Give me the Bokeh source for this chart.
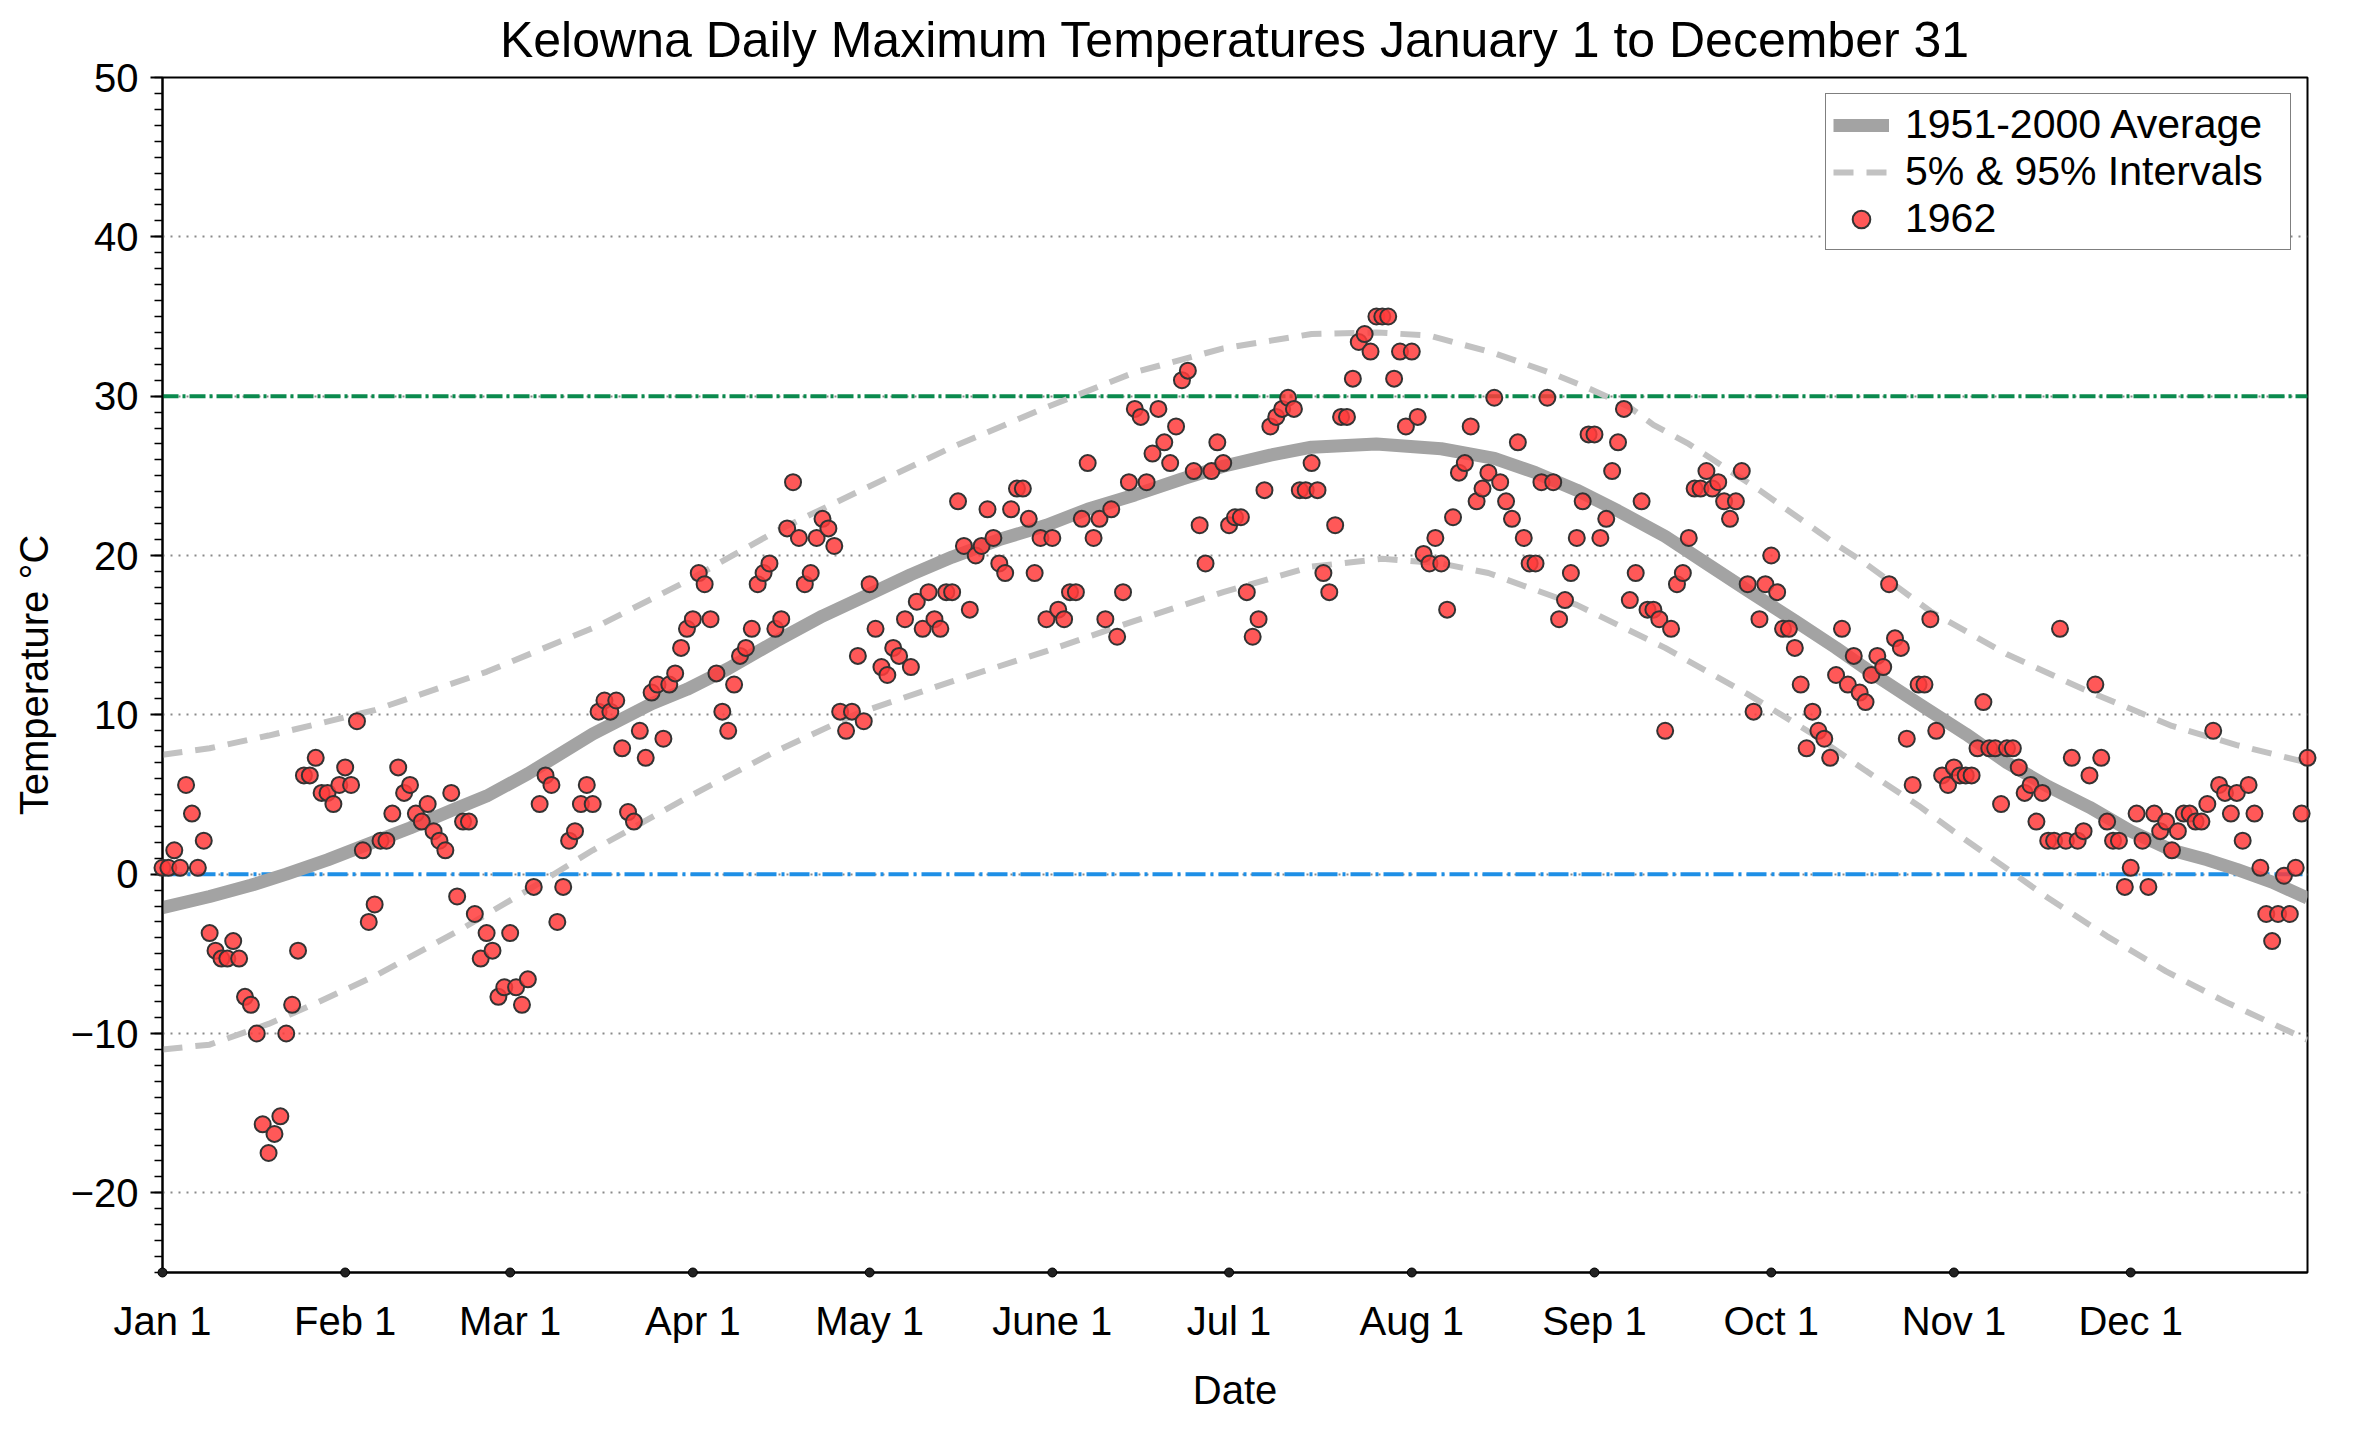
from bokeh.plotting import figure
from bokeh.models import (Range1d, SingleIntervalTicker, FixedTicker, Span,
                          Legend, LegendItem, ColumnDataSource)
from bokeh.embed import file_html
from bokeh.resources import INLINE

# 1962 daily maximum temperatures (deg C), Jan 1 .. Dec 31
temps_1962 = [
    # Jan
    0.4, 0.4, 1.5, 0.4, 5.6, 3.8, 0.4, 2.1, -3.7, -4.8, -5.3, -5.3, -4.2, -5.3, -7.7, -8.2,
    -10.0, -15.7, -17.5, -16.3, -15.2, -10.0, -8.2, -4.8, 6.2, 6.2, 7.3, 5.1, 5.1, 4.4, 5.6,
    # Feb
    6.7, 5.6, 9.6, 1.5, -3.0, -1.9, 2.1, 2.1, 3.8, 6.7, 5.1, 5.6, 3.8, 3.3, 4.4, 2.7,
    2.1, 1.5, 5.1, -1.4, 3.3, 3.3, -2.5, -5.3, -3.7, -4.8, -7.7, -7.1,
    # Mar
    -3.7, -7.1, -8.2, -6.6, -0.8, 4.4, 6.2, 5.6, -3.0, -0.8, 2.1, 2.7, 4.4, 5.6, 4.4, 10.2,
    10.9, 10.2, 10.9, 7.9, 3.9, 3.3, 9.0, 7.3, 11.4, 11.9, 8.5, 11.9, 12.6, 14.2, 15.4,
    # Apr
    16.0, 18.9, 18.2, 16.0, 12.6, 10.2, 9.0, 11.9, 13.7, 14.2, 15.4, 18.2, 18.9, 19.5, 15.4,
    16.0, 21.7, 24.6, 21.1, 18.2, 18.9, 21.1, 22.3, 21.7, 20.6, 10.2, 9.0, 10.2, 13.7, 9.6,
    # May
    18.2, 15.4, 13.0, 12.5, 14.2, 13.7, 16.0, 13.0, 17.1, 15.4, 17.7, 16.0, 15.4, 17.7, 17.7,
    23.4, 20.6, 16.6, 20.0, 20.6, 22.9, 21.1, 19.5, 18.9, 22.9, 24.2, 24.2, 22.3, 18.9, 21.1, 16.0,
    # June
    21.1, 16.6, 16.0, 17.7, 17.7, 22.3, 25.8, 21.1, 22.3, 16.0, 22.9, 14.9, 17.7, 24.6, 29.2,
    28.7, 24.6, 26.4, 29.2, 27.1, 25.8, 28.1, 31.0, 31.6, 25.3, 21.9, 19.5, 25.3, 27.1, 25.8,
    # Jul
    21.9, 22.4, 22.4, 17.7, 14.9, 16.0, 24.1, 28.1, 28.7, 29.2, 29.9, 29.2, 24.1, 24.1, 25.8,
    24.1, 18.9, 17.7, 21.9, 28.7, 28.7, 31.1, 33.4, 33.9, 32.8, 35.0, 35.0, 35.0, 31.1, 32.8, 28.1,
    # Aug
    32.8, 28.7, 20.1, 19.5, 21.1, 19.5, 16.6, 22.4, 25.2, 25.8, 28.1, 23.4, 24.2, 25.2, 29.9,
    24.6, 23.4, 22.3, 27.1, 21.1, 19.5, 19.5, 24.6, 29.9, 24.6, 16.0, 17.2, 18.9, 21.1, 23.4, 27.6,
    # Sep
    27.6, 21.1, 22.3, 25.3, 27.1, 29.2, 17.2, 18.9, 23.4, 16.6, 16.6, 16.0, 9.0, 15.4, 18.2,
    18.9, 21.1, 24.2, 24.2, 25.3, 24.2, 24.6, 23.4, 22.3, 23.4, 25.3, 18.2, 10.2, 16.0, 18.2,
    # Oct
    20.0, 17.7, 15.4, 15.4, 14.2, 11.9, 7.9, 10.2, 9.0, 8.5, 7.3, 12.5, 15.4, 11.9, 13.7,
    11.4, 10.8, 12.5, 13.7, 13.0, 18.2, 14.8, 14.2, 8.5, 5.6, 11.9, 11.9, 16.0, 9.0, 6.2, 5.6,
    # Nov
    6.7, 6.2, 6.2, 6.2, 7.9, 10.8, 7.9, 7.9, 4.4, 7.9, 7.9, 6.7, 5.1, 5.6, 3.3,
    5.1, 2.1, 2.1, 15.4, 2.1, 7.3, 2.1, 2.7, 6.2, 11.9, 7.3, 3.3, 2.1, 2.1, -0.8,
    # Dec
    0.4, 3.8, 2.1, -0.8, 3.8, 2.7, 3.3, 1.5, 2.7, 3.8, 3.8, 3.3, 3.3, 4.4, 9.0, 5.6,
    5.1, 3.8, 5.1, 2.1, 5.6, 3.8, 0.4, -2.5, -4.2, -2.5, -0.1, -2.5, 0.4, 3.8, 7.3,
]
days = list(range(1, len(temps_1962) + 1))

# 1951-2000 average
avg_days = [1, 9, 16, 22, 29, 36, 43, 50, 56, 63, 74, 84, 90, 97, 105, 113, 120, 128, 135,
            143, 151, 158, 166, 174, 181, 189, 196, 207, 218, 227, 234, 241, 248, 256, 263,
            270, 278, 285, 292, 299, 307, 314, 321, 328, 335, 342, 348, 353, 359, 365]
avg_vals = [-2.1, -1.4, -0.7, 0.0, 0.9, 1.9, 2.9, 4.0, 4.9, 6.3, 8.8, 10.7, 11.6, 12.9, 14.6, 16.2, 17.4, 18.8, 19.9,
            21.0, 21.9, 22.9, 23.8, 24.8, 25.6, 26.3, 26.8, 27.0, 26.7, 26.1, 25.2, 24.1, 22.8, 21.2, 19.5,
            17.8, 15.9, 14.2, 12.4, 10.7, 8.8, 7.0, 5.5, 4.2, 2.7, 1.5, 0.9, 0.3, -0.5, -1.5]

# 95% interval
upper_days = [1, 9, 19, 27, 37, 56, 75, 90, 105, 119, 135, 151, 166, 181, 196, 207,
              216, 227, 237, 243, 250, 254, 260, 272, 285, 290, 301, 314, 327, 342, 353, 365]
upper_vals = [7.5, 7.9, 8.7, 9.4, 10.3, 12.7, 15.6, 18.4, 21.5, 24.0, 26.8, 29.3, 31.5, 33.0, 33.9, 34.0,
              33.8, 32.7, 31.4, 30.5, 29.3, 28.2, 27.0, 24.1, 20.7, 19.5, 16.5, 13.8, 11.6, 9.3, 8.1, 7.0]

# 5% interval
lower_days = [1, 9, 19, 27, 37, 51, 63, 74, 90, 105, 119, 135, 151, 166, 181, 196, 208,
              218, 226, 241, 256, 270, 281, 290, 299, 306, 313, 321, 331, 341, 351, 358, 365]
lower_vals = [-11.0, -10.7, -9.4, -8.1, -6.4, -3.6, -1.0, 1.5, 4.8, 7.7, 10.1, 12.1, 14.0, 15.9, 17.7, 19.3, 19.8,
              19.5, 18.9, 16.9, 14.2, 11.3, 8.8, 6.5, 4.3, 2.4, 0.6, -1.5, -3.9, -6.1, -8.0, -9.2, -10.4]

month_ticks = [1, 32, 60, 91, 121, 152, 182, 213, 244, 274, 305, 335]
month_labels = ["Jan 1", "Feb 1", "Mar 1", "Apr 1", "May 1", "June 1",
                "Jul 1", "Aug 1", "Sep 1", "Oct 1", "Nov 1", "Dec 1"]

FONT = "Liberation Sans"

p = figure(frame_width=2145, frame_height=1195,
           min_border_left=162, min_border_right=37, min_border_top=77, min_border_bottom=144,
           x_range=Range1d(1, 365), y_range=Range1d(-25, 50),
           title="Kelowna Daily Maximum Temperatures January 1 to December 31",
           output_backend="svg", toolbar_location=None)

p.title.align = "center"
p.title.text_font = FONT
p.title.text_font_size = "50px"
p.title.text_font_style = "normal"
p.title.text_color = "black"
p.title.standoff = 19

p.outline_line_color = "black"
p.outline_line_width = 2

# x axis
p.xaxis.ticker = FixedTicker(ticks=month_ticks)
p.xaxis.major_label_overrides = dict(zip(month_ticks, month_labels))
p.xaxis.major_tick_out = 0
p.xaxis.major_tick_in = 0
p.xaxis.minor_tick_out = 0
p.xaxis.major_label_standoff = 26
p.xaxis.axis_label = "Date"
p.xaxis.axis_label_standoff = 22

# y axis
p.yaxis.ticker = SingleIntervalTicker(interval=10, num_minor_ticks=10)
p.yaxis.major_label_overrides = {-20: "\u221220", -10: "\u221210"}
p.yaxis.major_tick_out = 12
p.yaxis.major_tick_in = 0
p.yaxis.minor_tick_out = 8
p.yaxis.minor_tick_in = 0
p.yaxis.major_label_standoff = 12
p.yaxis.axis_label = "Temperature \u00b0C"
p.yaxis.axis_label_standoff = 12

for ax in (p.xaxis, p.yaxis):
    ax.axis_line_width = 2
    ax.axis_line_color = "black"
    ax.major_tick_line_width = 2
    ax.minor_tick_line_width = 1.5
    ax.major_label_text_font = FONT
    ax.major_label_text_font_size = "40px"
    ax.major_label_text_color = "black"
    ax.axis_label_text_font = FONT
    ax.axis_label_text_font_size = "40px"
    ax.axis_label_text_font_style = "normal"
    ax.axis_label_text_color = "black"

p.xgrid.visible = False
p.ygrid.grid_line_color = "#8a8a8a"
p.ygrid.grid_line_dash = "2 6"
p.ygrid.grid_line_width = 2

# reference lines at 0 and 30
p.add_layout(Span(location=30, dimension="width", line_color="#0b8a4e",
                  line_width=4, line_dash="16 4 3 4", level="underlay"))
p.add_layout(Span(location=0, dimension="width", line_color="#1e8fe6",
                  line_width=4, line_dash="20 5 3 5", level="underlay"))

avg = p.line(avg_days, avg_vals, line_color="#a3a3a3", line_width=13, line_join="round")
up = p.line(upper_days, upper_vals, line_color="#c2c2c2", line_width=6, line_dash="20 13")
p.line(lower_days, lower_vals, line_color="#c2c2c2", line_width=6, line_dash="20 13")

src = ColumnDataSource(dict(day=days, temp=temps_1962))
pts = p.scatter("day", "temp", source=src, size=16, fill_color="#ff3b3b", fill_alpha=0.85,
                line_color="#333333", line_width=2, level="overlay")

# month marks on the date axis
p.scatter(month_ticks, [-25] * len(month_ticks), size=9, fill_color="#222222",
          line_color="black", level="overlay")

legend = Legend(items=[LegendItem(label="1951-2000 Average", renderers=[avg]),
                       LegendItem(label="5% & 95% Intervals", renderers=[up]),
                       LegendItem(label="1962", renderers=[pts])],
                location="top_right")
legend.margin = 16
legend.padding = 7
legend.spacing = 0
legend.glyph_width = 56
legend.glyph_height = 44
legend.label_height = 44
legend.label_width = 378
legend.label_standoff = 16
legend.label_text_font = FONT
legend.label_text_font_size = "41px"
legend.label_text_color = "black"
legend.border_line_color = "black"
legend.border_line_width = 1.5
legend.background_fill_alpha = 1.0
p.add_layout(legend)

open("out.html", "w").write(file_html(p, INLINE))
